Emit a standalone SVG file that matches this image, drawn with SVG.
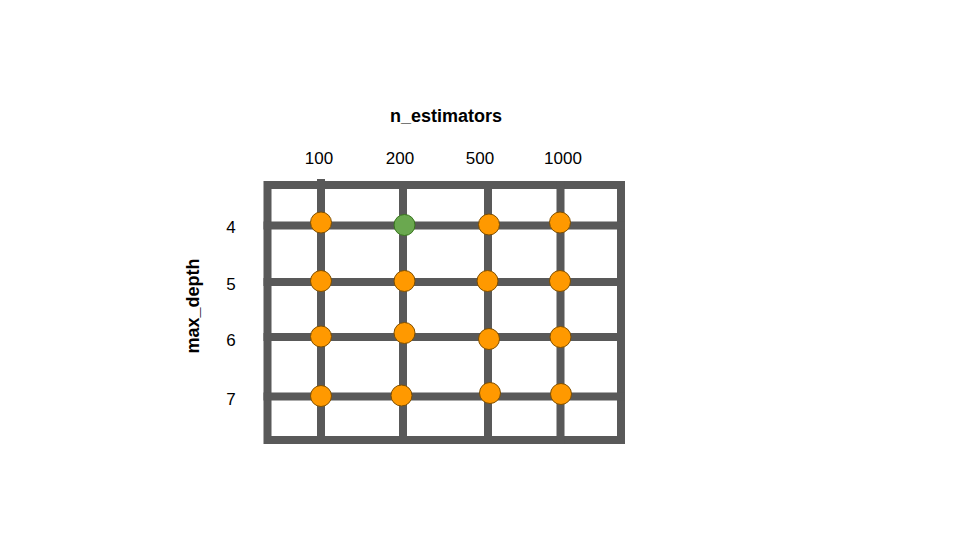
<svg xmlns="http://www.w3.org/2000/svg" width="960" height="540" viewBox="0 0 960 540">
<style>
.ln{stroke:#595959;stroke-width:8;fill:none;stroke-linecap:square}
.o{fill:#ff9900;stroke:#7f4f00;stroke-width:1}
.g{fill:#6aa84f;stroke:#38761d;stroke-width:1}
text{font-family:"Liberation Sans",Arial,sans-serif;fill:#000}
.t{font-size:17px;text-anchor:middle}
.b{font-size:18px;font-weight:bold;text-anchor:middle}
</style>
<rect width="960" height="540" fill="#ffffff"/>
<g id="grid">
<rect class="ln" x="267.5" y="185" width="353.5" height="255"/>
<line class="ln" x1="321" y1="183" x2="321" y2="440"/>
<line class="ln" x1="403" y1="185" x2="403" y2="440"/>
<line class="ln" x1="488" y1="185" x2="488" y2="440"/>
<line class="ln" x1="560.5" y1="185" x2="560.5" y2="440"/>
<line class="ln" x1="267.5" y1="225.5" x2="621" y2="225.5"/>
<line class="ln" x1="267.5" y1="282" x2="621" y2="282"/>
<line class="ln" x1="267.5" y1="337" x2="621" y2="337"/>
<line class="ln" x1="267.5" y1="396.5" x2="621" y2="396.5"/>
</g>
<g id="labels">
<text class="b" x="446" y="122">n_estimators</text>
<text class="t" x="319" y="164">100</text>
<text class="t" x="400" y="164">200</text>
<text class="t" x="480" y="164">500</text>
<text class="t" x="563" y="164">1000</text>
<text class="t" x="231" y="233">4</text>
<text class="t" x="231" y="290">5</text>
<text class="t" x="231" y="346">6</text>
<text class="t" x="231" y="405">7</text>
<text class="b" transform="translate(199,306) rotate(-90)">max_depth</text>
</g>
<g id="points">
<circle class="o" cx="321" cy="222.5" r="10.5"/>
<circle class="g" cx="404.5" cy="225" r="10.5"/>
<circle class="o" cx="489" cy="224.5" r="10.5"/>
<circle class="o" cx="560" cy="222.5" r="10.5"/>
<circle class="o" cx="321" cy="281" r="10.5"/>
<circle class="o" cx="404.5" cy="281" r="10.5"/>
<circle class="o" cx="487.5" cy="281" r="10.5"/>
<circle class="o" cx="560" cy="281" r="10.5"/>
<circle class="o" cx="321" cy="336.5" r="10.5"/>
<circle class="o" cx="404.5" cy="333" r="10.5"/>
<circle class="o" cx="489" cy="339" r="10.5"/>
<circle class="o" cx="560.5" cy="337" r="10.5"/>
<circle class="o" cx="321" cy="396" r="10.5"/>
<circle class="o" cx="401.5" cy="395.5" r="10.5"/>
<circle class="o" cx="490" cy="393" r="10.5"/>
<circle class="o" cx="561" cy="394" r="10.5"/>
</g>
</svg>
